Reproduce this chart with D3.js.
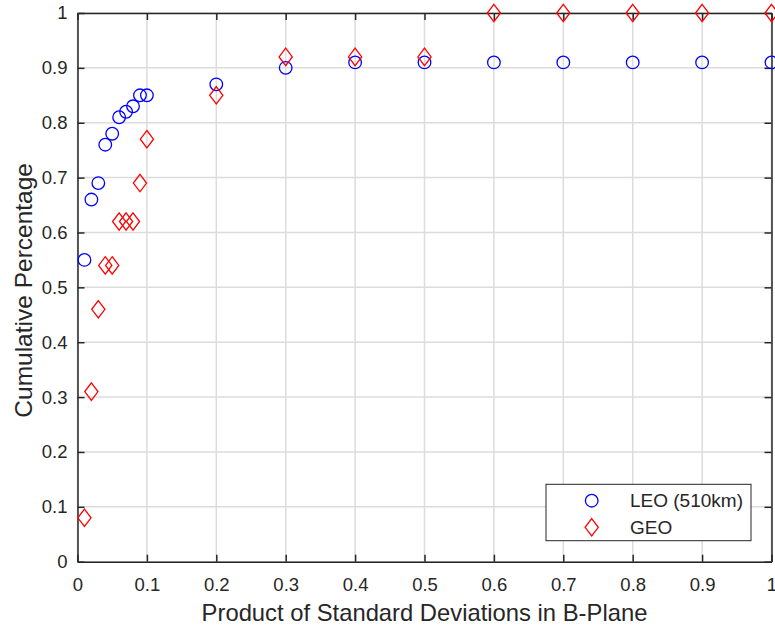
<!DOCTYPE html>
<html>
<head>
<meta charset="utf-8">
<script src="https://cdn.jsdelivr.net/npm/d3@7"></script>
<style>
  body { margin: 0; background: #fff; }
  text { font-family: "Liberation Sans", Arial, Helvetica, sans-serif; fill: #262626; }
</style>
</head>
<body>
<svg id="chart" width="775" height="627"></svg>
<script>
// values
const xValues = [0.01, 0.02, 0.03, 0.04, 0.05, 0.06, 0.07, 0.08, 0.09, 0.1,
                 0.2, 0.3, 0.4, 0.5, 0.6, 0.7, 0.8, 0.9, 1.0];
const leoValues = [0.55, 0.66, 0.69, 0.76, 0.78, 0.81, 0.82, 0.83, 0.85, 0.85,
                   0.87, 0.90, 0.91, 0.91, 0.91, 0.91, 0.91, 0.91, 0.91];
const geoValues = [0.08, 0.31, 0.46, 0.54, 0.54, 0.62, 0.62, 0.62, 0.69, 0.77,
                   0.85, 0.92, 0.92, 0.92, 1.0, 1.0, 1.0, 1.0, 1.0];
const xTicks = [0, 0.1, 0.2, 0.3, 0.4, 0.5, 0.6, 0.7, 0.8, 0.9, 1];
const yTicks = [0, 0.1, 0.2, 0.3, 0.4, 0.5, 0.6, 0.7, 0.8, 0.9, 1];
const seriesNames = ["LEO (510km)", "GEO"];

const margin = { left: 77.5, right: 771.5, top: 13, bottom: 561.7 };
const svg = d3.select("#chart");

const x = d3.scaleLinear().domain([0, 1]).range([margin.left, margin.right]);
const y = d3.scaleLinear().domain([0, 1]).range([margin.bottom, margin.top]);

const fmt = d => d === 0 || d === 1 ? String(d) : d3.format(".1f")(d);

// grid
const grid = svg.append("g").attr("class", "grid");
grid.selectAll("line.gx").data(xTicks).enter().append("line")
    .attr("x1", d => x(d)).attr("x2", d => x(d))
    .attr("y1", margin.top).attr("y2", margin.bottom)
    .attr("stroke", "#dcdcdc").attr("stroke-width", 1.5);
grid.selectAll("line.gy").data(yTicks).enter().append("line")
    .attr("x1", margin.left).attr("x2", margin.right)
    .attr("y1", d => y(d)).attr("y2", d => y(d))
    .attr("stroke", "#dcdcdc").attr("stroke-width", 1.5);

// axes: ticks inside, box on
const tickStyle = g => {
    g.select(".domain").attr("stroke", "#262626").attr("stroke-width", 1.5);
    g.selectAll(".tick line").attr("stroke", "#262626").attr("stroke-width", 1.5);
    g.selectAll(".tick text").style("font-size", "18.5px").attr("fill", "#262626");
};
svg.append("g").attr("transform", `translate(0,${margin.bottom})`)
    .call(d3.axisBottom(x).tickValues(xTicks).tickFormat(fmt).tickSizeInner(-7).tickSizeOuter(0).tickPadding(16.5))
    .call(tickStyle);
svg.append("g").attr("transform", `translate(0,${margin.top})`)
    .call(d3.axisTop(x).tickValues(xTicks).tickFormat("").tickSizeInner(-7).tickSizeOuter(0))
    .call(tickStyle);
svg.append("g").attr("transform", `translate(${margin.left},0)`)
    .call(d3.axisLeft(y).tickValues(yTicks).tickFormat(fmt).tickSizeInner(-7).tickSizeOuter(0).tickPadding(10))
    .call(tickStyle);
svg.append("g").attr("transform", `translate(${margin.right},0)`)
    .call(d3.axisRight(y).tickValues(yTicks).tickFormat("").tickSizeInner(-7).tickSizeOuter(0))
    .call(tickStyle);

// axis labels
svg.append("text")
    .attr("x", (margin.left + margin.right) / 2).attr("y", 621)
    .attr("text-anchor", "middle").style("font-size", "23.8px")
    .text("Product of Standard Deviations in B-Plane");
svg.append("text")
    .attr("transform", `translate(32,${(margin.top + margin.bottom) / 2 + 3}) rotate(-90)`)
    .attr("text-anchor", "middle").style("font-size", "24.5px")
    .text("Cumulative Percentage");

// markers
const circleMark = (g, cx, cy) => g.append("circle")
    .attr("cx", cx).attr("cy", cy).attr("r", 6.3)
    .attr("fill", "none").attr("stroke", "#0000ff").attr("stroke-width", 1.3);
const diamondMark = (g, cx, cy) => g.append("path")
    .attr("d", `M${cx},${cy - 8.7}L${cx + 6.6},${cy}L${cx},${cy + 8.7}L${cx - 6.6},${cy}Z`)
    .attr("fill", "none").attr("stroke", "#ff0000").attr("stroke-width", 1.3);

const points = svg.append("g");
xValues.forEach((xv, i) => circleMark(points, x(xv), y(leoValues[i])));
xValues.forEach((xv, i) => diamondMark(points, x(xv), y(geoValues[i])));

// legend
const legend = svg.append("g");
legend.append("rect")
    .attr("x", 546).attr("y", 484.3).attr("width", 205).attr("height", 56.4)
    .attr("fill", "#fff").attr("stroke", "#262626").attr("stroke-width", 1);
const markers = [circleMark, diamondMark];
seriesNames.forEach((name, i) => {
    const ly = 500.7 + i * 26.6;
    markers[i](legend, 591.7, ly);
    legend.append("text")
        .attr("x", 630).attr("y", ly).attr("dy", "0.35em")
        .style("font-size", "19px")
        .text(name);
});
</script>
</body>
</html>
